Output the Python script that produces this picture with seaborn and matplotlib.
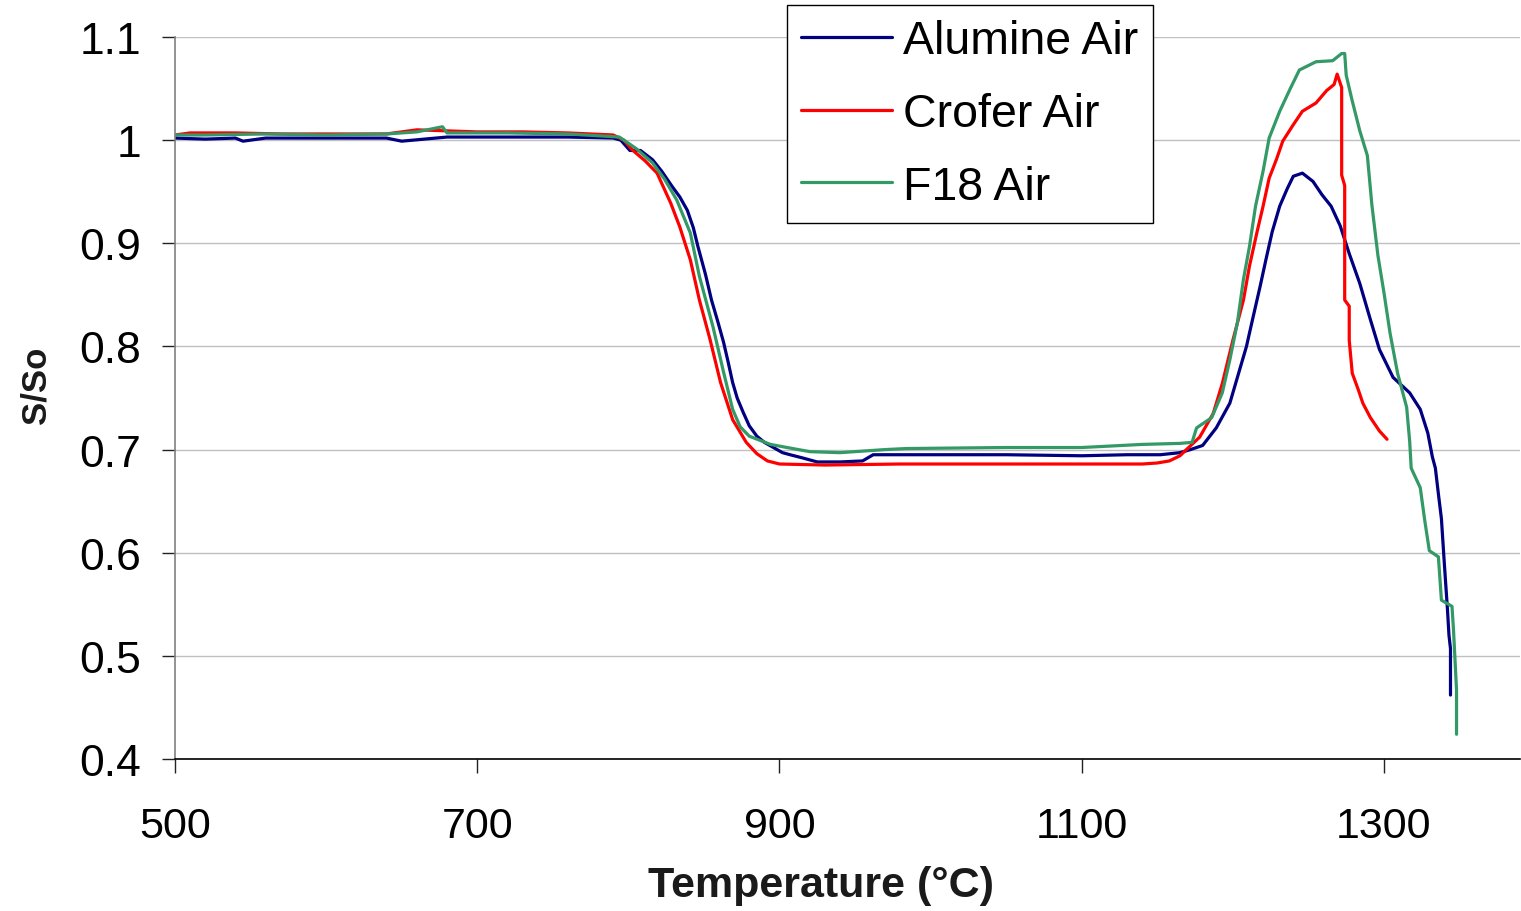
import matplotlib
matplotlib.use("Agg")
import matplotlib.pyplot as plt
import seaborn as sns
import pandas as pd
from matplotlib.ticker import FuncFormatter

# ---------------- data ----------------
alumine_T = [500, 520, 540, 545, 560, 580, 600, 640, 650, 680, 720, 760, 790, 795, 801, 808,
             816, 822, 829, 834, 839, 843, 846, 851, 855, 859, 863, 866, 869, 872, 876, 880,
             885, 890, 896, 902, 907, 915, 925, 940, 955, 962, 971, 1000, 1050, 1100, 1130,
             1152, 1165, 1172, 1180, 1189, 1198, 1203, 1209, 1213, 1218, 1222, 1226, 1231,
             1236, 1240, 1246, 1253, 1259, 1265, 1271, 1277, 1284, 1291, 1297, 1306, 1317,
             1324, 1329, 1332, 1334, 1336, 1338, 1340, 1342, 1343, 1344, 1344]
alumine_S = [1.002, 1.001, 1.002, 0.999, 1.002, 1.002, 1.002, 1.002, 0.999, 1.003, 1.003, 1.003,
             1.002, 1.000, 0.990, 0.990, 0.981, 0.970, 0.955, 0.945, 0.932, 0.915, 0.897, 0.870,
             0.845, 0.825, 0.804, 0.785, 0.765, 0.750, 0.736, 0.723, 0.713, 0.707, 0.702, 0.697,
             0.695, 0.692, 0.688, 0.688, 0.689, 0.695, 0.695, 0.695, 0.695, 0.694, 0.695, 0.695,
             0.697, 0.700, 0.704, 0.721, 0.745, 0.770, 0.800, 0.826, 0.858, 0.885, 0.911, 0.936,
             0.953, 0.965, 0.968, 0.960, 0.947, 0.936, 0.917, 0.890, 0.861, 0.826, 0.797, 0.770,
             0.755, 0.739, 0.716, 0.693, 0.682, 0.657, 0.633, 0.588, 0.545, 0.520, 0.507, 0.462]

crofer_T = [500, 510, 540, 570, 600, 640, 660, 680, 700, 730, 760, 790, 797, 803, 811, 819, 828,
            834, 841, 847, 854, 861, 869, 878, 885, 892, 900, 930, 980, 1050, 1100, 1140, 1150,
            1158, 1165, 1170, 1178, 1187, 1193, 1200, 1207, 1211, 1216, 1220, 1224, 1229, 1233,
            1240, 1246, 1255, 1262, 1267, 1269, 1272, 1272, 1274, 1274, 1277, 1277, 1279, 1283,
            1286, 1291, 1297, 1302]
crofer_S = [1.005, 1.007, 1.007, 1.006, 1.006, 1.006, 1.010, 1.009, 1.008, 1.008, 1.007, 1.005,
            1.000, 0.990, 0.980, 0.968, 0.939, 0.916, 0.884, 0.845, 0.807, 0.765, 0.729, 0.707,
            0.696, 0.689, 0.686, 0.685, 0.686, 0.686, 0.686, 0.686, 0.687, 0.689, 0.694, 0.701,
            0.712, 0.735, 0.764, 0.806, 0.845, 0.878, 0.911, 0.936, 0.963, 0.982, 0.999, 1.015,
            1.028, 1.036, 1.048, 1.054, 1.064, 1.051, 0.966, 0.956, 0.845, 0.839, 0.806, 0.774,
            0.758, 0.745, 0.731, 0.718, 0.710]

f18_T = [500, 520, 560, 600, 640, 660, 677, 680, 720, 760, 794, 805, 816, 824, 832, 841, 847,
         856, 863, 869, 874, 880, 894, 905, 920, 940, 970, 984, 1050, 1100, 1140, 1165, 1173,
         1176, 1186, 1193, 1198, 1203, 1207, 1211, 1215, 1220, 1224, 1231, 1238, 1244, 1255,
         1266, 1272, 1274, 1275, 1279, 1284, 1289, 1292, 1296, 1300, 1304, 1309, 1315, 1317,
         1318, 1324, 1327, 1330, 1336, 1338, 1345, 1346, 1348, 1348]
f18_S = [1.005, 1.005, 1.006, 1.005, 1.006, 1.008, 1.013, 1.007, 1.007, 1.006, 1.003, 0.992,
         0.978, 0.962, 0.942, 0.910, 0.868, 0.819, 0.775, 0.739, 0.722, 0.713, 0.705, 0.702,
         0.698, 0.697, 0.700, 0.701, 0.702, 0.702, 0.705, 0.706, 0.707, 0.721, 0.731, 0.755,
         0.787, 0.823, 0.865, 0.897, 0.936, 0.970, 1.002, 1.028, 1.050, 1.068, 1.076, 1.077,
         1.084, 1.084, 1.063, 1.038, 1.009, 0.985, 0.937, 0.888, 0.852, 0.813, 0.774, 0.741,
         0.708, 0.682, 0.663, 0.631, 0.602, 0.596, 0.554, 0.548, 0.525, 0.467, 0.424]

series_names = ["Alumine Air", "Crofer Air", "F18 Air"]
series_colors = ["#000080", "#FF0000", "#339966"]
y_ticks = [0.4, 0.5, 0.6, 0.7, 0.8, 0.9, 1.0, 1.1]
x_ticks = [500, 700, 900, 1100, 1300]

frames = []
for name, T, S in zip(series_names, [alumine_T, crofer_T, f18_T],
                      [alumine_S, crofer_S, f18_S]):
    frames.append(pd.DataFrame({"T": T, "S": S, "series": name}))
df = pd.concat(frames, ignore_index=True)

# ---------------- plotting ----------------
sns.set_theme(style="white")
plt.rcParams["font.family"] = ["Liberation Sans", "DejaVu Sans"]
plt.rcParams["text.color"] = "black"

fig = plt.figure(figsize=(15.21, 9.12), dpi=100)
ax = fig.add_axes([175 / 1521, 1 - 760 / 912, 1345 / 1521, (760 - 38) / 912])

sns.lineplot(data=df, x="T", y="S", hue="series", palette=series_colors,
             hue_order=series_names, sort=False, estimator=None, units="series",
             linewidth=2.3, ax=ax, legend=False)

ax.set_xlim(500, 1390)
ax.set_ylim(0.4, 1.1)
ax.set_xticks(x_ticks)
ax.set_yticks(y_ticks)
ax.yaxis.set_major_formatter(FuncFormatter(lambda v, p: f"{v:g}"))
ax.grid(axis="y", color="#c0c0c0", linewidth=1.0)
ax.grid(axis="x", visible=False)
ax.set_axisbelow(True)

for s in ["top", "right"]:
    ax.spines[s].set_visible(False)
ax.spines["left"].set_color("#808080")
ax.spines["left"].set_linewidth(1.2)
ax.spines["bottom"].set_color("#000000")
ax.spines["bottom"].set_linewidth(1.2)

ax.tick_params(axis="y", direction="out", length=9.5, width=1.0, color="#222222",
               labelsize=32, pad=15, left=True, labelcolor="black")
ax.tick_params(axis="x", direction="out", length=10, width=1.0, color="#222222",
               labelsize=31, pad=24, bottom=True, labelcolor="black")

ax.set_xlabel("Temperature (°C)", fontsize=31, fontweight="bold", color="#1a1a1a")
ax.set_ylabel("S/So", fontsize=25, fontweight="bold", color="#1a1a1a")
ax.xaxis.set_label_coords((821 - 175) / 1345, (760 - 886) / 722, transform=ax.transAxes)
ax.yaxis.set_label_coords((36 - 175) / 1345, (760 - 385) / 722, transform=ax.transAxes)
ax.xaxis.label.set_va("center")
ax.yaxis.label.set_va("center")

handles = [plt.Line2D([], [], color=c, linewidth=2.3) for c in series_colors]
leg = ax.legend(handles, series_names, loc="upper left",
                bbox_to_anchor=((787 - 175) / 1345, (760 - 6) / 722),
                fontsize=33.5, frameon=True, fancybox=False, framealpha=1,
                edgecolor="black", handlelength=1.95, handletextpad=0.25,
                labelspacing=0.62, borderpad=0.3, borderaxespad=0,
                labelcolor="black")
leg.get_frame().set_linewidth(1.0)

fig.savefig("out.png", dpi=100)
